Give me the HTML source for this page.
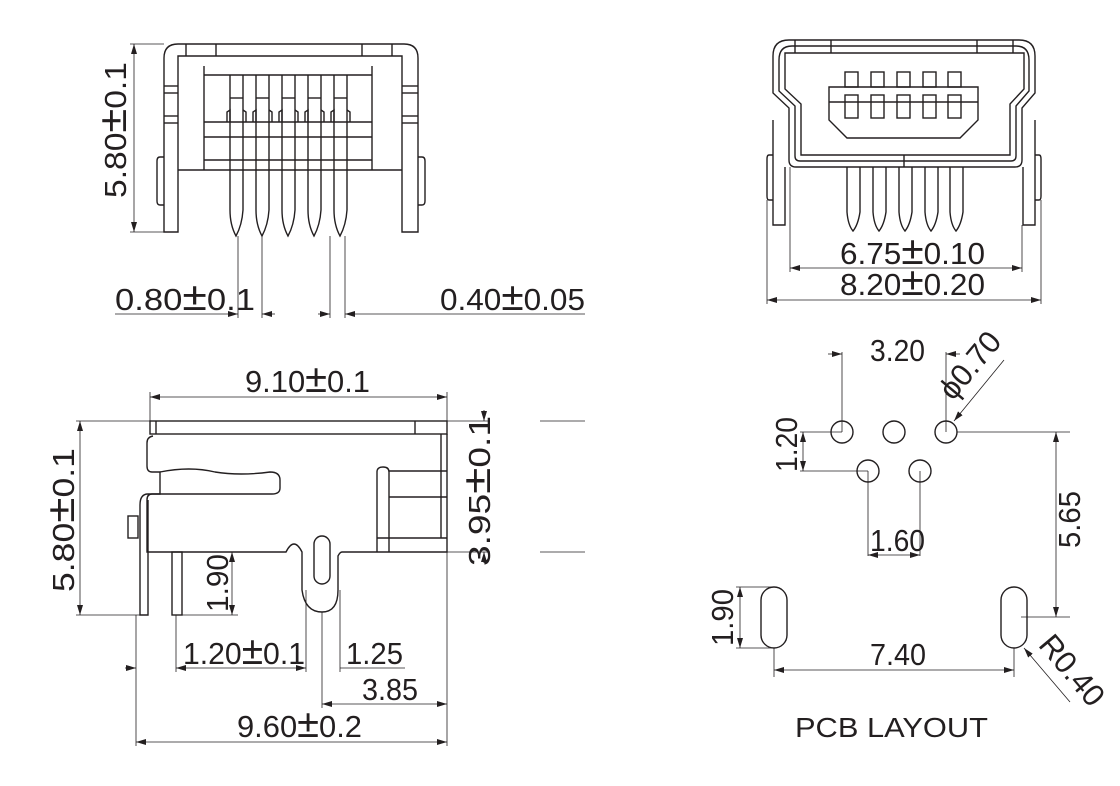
<!DOCTYPE html>
<html><head><meta charset="utf-8"><style>
html,body{margin:0;padding:0;background:#fff;}
svg{display:block}
text{font-family:"Liberation Sans",sans-serif;font-size:31px;fill:#231f20}
tspan.pm{font-size:40px}
</style></head><body>
<svg width="1120" height="786" viewBox="0 0 1120 786" xmlns="http://www.w3.org/2000/svg">
<defs>
<marker id="a" viewBox="0 0 10 6" refX="10" refY="3" markerWidth="10" markerHeight="6" orient="auto-start-reverse" markerUnits="userSpaceOnUse"><path d="M0,0 L10,3 L0,6 z" fill="#231f20"/></marker>
</defs>
<g fill="none" stroke="#231f20" stroke-width="1.4">
<!-- TOP LEFT VIEW -->
<path d="M164,232 L164,58 Q164,44 178,44 L404,44 Q418,44 418,58 L418,232 L402,232 L402,56 L178,56 L178,232 Z"/>
<line x1="178" y1="170" x2="402" y2="170"/>
<line x1="186" y1="44" x2="186" y2="56"/><line x1="216" y1="44" x2="216" y2="56"/>
<line x1="362" y1="44" x2="362" y2="56"/><line x1="392" y1="44" x2="392" y2="56"/>
<line x1="164" y1="86" x2="178" y2="86"/><line x1="164" y1="93" x2="178" y2="93"/>
<line x1="164" y1="116" x2="178" y2="116"/><line x1="164" y1="123" x2="178" y2="123"/>
<line x1="402" y1="86" x2="418" y2="86"/><line x1="402" y1="93" x2="418" y2="93"/>
<line x1="402" y1="116" x2="418" y2="116"/><line x1="402" y1="123" x2="418" y2="123"/>
<path d="M164,157 L160,157 Q157,157 157,161 L157,201 Q157,205 160,205 L164,205"/>
<path d="M418,157 L422,157 Q425,157 425,161 L425,201 Q425,205 422,205 L418,205"/>
<line x1="204" y1="66" x2="204" y2="170"/><line x1="372" y1="66" x2="372" y2="170"/>
<line x1="204" y1="75" x2="372" y2="75"/>
<line x1="204" y1="122" x2="372" y2="122"/>
<line x1="204" y1="137" x2="372" y2="137"/>
<line x1="204" y1="160" x2="372" y2="160"/>
<g id="pinT">
<path d="M230,75 L230,210 Q230,225 236,236 Q242,225 243,210 L243,75"/>
<line x1="230" y1="98" x2="243" y2="98"/>
<path d="M227,122 L227,112 L230,110 L230,122 M243,110 L246,112 L246,122"/>
</g>
<use href="#pinT" x="26"/><use href="#pinT" x="52"/><use href="#pinT" x="78"/><use href="#pinT" x="104"/>
<line x1="130" y1="44" x2="164" y2="44" stroke-width="0.8"/>
<line x1="130" y1="232" x2="164" y2="232" stroke-width="0.8"/>
<line x1="134" y1="44" x2="134" y2="232" stroke-width="0.8" marker-start="url(#a)" marker-end="url(#a)"/>
<g stroke-width="0.8">
<line x1="238" y1="236" x2="238" y2="318"/><line x1="262" y1="236" x2="262" y2="318"/>
<line x1="330" y1="236" x2="330" y2="318"/><line x1="345" y1="236" x2="345" y2="318"/>
<line x1="115" y1="314" x2="238" y2="314" marker-end="url(#a)"/>
<line x1="275" y1="314" x2="262" y2="314" marker-end="url(#a)"/>
<line x1="318" y1="314" x2="330" y2="314" marker-end="url(#a)"/>
<line x1="585" y1="314" x2="345" y2="314" marker-end="url(#a)"/>
</g>

<!-- TOP RIGHT VIEW -->
<path d="M773,56 Q773,40 789,40 L1019,40 Q1035,40 1035,56 L1035,93 L1022,108 L1022,160 Q1022,167 1015,167 L796,167 Q789,167 789,160 L789,108 L773,93 Z"/>
<path d="M779,60 Q779,46 792,46 L1016,46 Q1029,46 1029,60 L1029,91 L1016,106 L1016,156 Q1016,161 1011,161 L800,161 Q795,161 795,156 L795,106 L779,91 Z"/>
<path d="M785,53 L1024,53 L1024,89 L1010,104 L1010,155 L801,155 L801,104 L785,89 Z"/>
<line x1="795" y1="40" x2="795" y2="53"/><line x1="831" y1="40" x2="831" y2="53"/>
<line x1="977" y1="40" x2="977" y2="53"/><line x1="1013" y1="40" x2="1013" y2="53"/>
<line x1="904" y1="155" x2="904" y2="167"/>
<path d="M829,87 L978,87 L978,120 L960,138 L847,138 L829,120 Z"/>
<line x1="829" y1="102" x2="978" y2="102"/>
<g id="pinR"><rect x="845" y="72" width="13" height="15"/><rect x="845" y="95" width="13" height="23"/>
<path d="M847,167 L847,212 Q848,225 853,231 Q858,225 860,212 L860,167"/></g>
<use href="#pinR" x="26"/><use href="#pinR" x="52"/><use href="#pinR" x="78"/><use href="#pinR" x="103"/>
<path d="M773,155 L769,155 Q767,155 767,159 L767,196 Q767,200 769,200 L773,200"/>
<path d="M773,120 L773,225 L785,225 L785,167"/>
<path d="M1035,155 L1039,155 Q1041,155 1041,159 L1041,196 Q1041,200 1039,200 L1035,200"/>
<path d="M1035,120 L1035,225 L1023,225 L1023,167"/>
<g stroke-width="0.8">
<line x1="790" y1="167" x2="790" y2="272"/><line x1="1022" y1="225" x2="1022" y2="272"/>
<line x1="767" y1="200" x2="767" y2="304"/><line x1="1041" y1="200" x2="1041" y2="304"/>
<line x1="790" y1="268" x2="1022" y2="268" marker-start="url(#a)" marker-end="url(#a)"/>
<line x1="767" y1="300" x2="1041" y2="300" marker-start="url(#a)" marker-end="url(#a)"/>
</g>

<!-- BOTTOM LEFT SIDE VIEW -->
<rect x="150" y="421" width="297" height="13"/>
<line x1="156" y1="421" x2="156" y2="434"/><line x1="415" y1="421" x2="415" y2="434"/>
<path d="M447,434 L447,552 L342,552 Q340,552 338,556 L338,590 Q338,612 322,612 Q305,612 302,590 L302,552 Q298,544 294,544 Q290,544 286,552 L147,552 L147,500 Q147,494 152,494 L160,494 L160,472 L152,472 Q147,472 147,466 L147,443 Q147,437 153,436"/>
<path d="M160,472 Q190,466 215,472 Q240,476 270,472 Q280,472 280,480 L280,488 Q280,494 272,494 L160,494"/>
<path d="M160,494 L148,494 Q140,494 140,505 L140,615 L148,615 L148,500"/>
<rect x="128" y="516" width="10" height="22"/>
<rect x="172" y="552" width="10" height="63"/>
<rect x="314" y="536" width="16" height="48" rx="8"/>
<path d="M377,552 L377,472 Q377,467 383,467 Q389,467 389,472 L389,552"/>
<line x1="389" y1="471" x2="447" y2="471"/><line x1="389" y1="497" x2="447" y2="497"/>
<line x1="377" y1="538" x2="447" y2="538"/>
<path d="M441,434 L441,538"/>
<g stroke-width="0.8">
<line x1="150" y1="421" x2="150" y2="392"/><line x1="447" y1="421" x2="447" y2="392"/>
<line x1="150" y1="397" x2="447" y2="397" marker-start="url(#a)" marker-end="url(#a)"/>
<line x1="76" y1="421" x2="150" y2="421"/><line x1="76" y1="615" x2="140" y2="615"/>
<line x1="80" y1="421" x2="80" y2="615" marker-start="url(#a)" marker-end="url(#a)"/>
<line x1="447" y1="421" x2="490" y2="421"/><line x1="447" y1="552" x2="490" y2="552"/>
<line x1="484" y1="410" x2="484" y2="421" marker-end="url(#a)"/>
<line x1="484" y1="563" x2="484" y2="552" marker-end="url(#a)"/>
<line x1="540" y1="421" x2="585" y2="421"/><line x1="540" y1="552" x2="585" y2="552"/>
<line x1="182" y1="615" x2="238" y2="615"/>
<line x1="232" y1="552" x2="232" y2="615" marker-start="url(#a)" marker-end="url(#a)"/>
<line x1="136" y1="615" x2="136" y2="746"/><line x1="447" y1="552" x2="447" y2="746"/>
<line x1="176" y1="615" x2="176" y2="672"/><line x1="306" y1="590" x2="306" y2="672"/>
<line x1="340" y1="590" x2="340" y2="672"/><line x1="322" y1="612" x2="322" y2="708"/>
<line x1="176" y1="668" x2="306" y2="668" marker-start="url(#a)" marker-end="url(#a)"/>
<line x1="125" y1="668" x2="136" y2="668" marker-end="url(#a)"/>
<line x1="340" y1="668" x2="405" y2="668"/>
<line x1="322" y1="704" x2="447" y2="704" marker-start="url(#a)" marker-end="url(#a)"/>
<line x1="136" y1="742" x2="447" y2="742" marker-start="url(#a)" marker-end="url(#a)"/>
</g>

<!-- PCB LAYOUT -->
<circle cx="842" cy="432" r="11"/><circle cx="894" cy="432" r="11"/><circle cx="946" cy="432" r="11"/>
<circle cx="868" cy="471" r="11"/><circle cx="920" cy="471" r="11"/>
<rect x="761" y="587" width="26" height="61" rx="13"/>
<rect x="1001" y="587" width="26" height="61" rx="13"/>
<g stroke-width="0.8">
<line x1="842" y1="432" x2="842" y2="352"/><line x1="946" y1="432" x2="946" y2="352"/>
<line x1="828" y1="354" x2="842" y2="354" marker-end="url(#a)"/>
<line x1="960" y1="354" x2="946" y2="354" marker-end="url(#a)"/>
<line x1="1004" y1="360" x2="954" y2="421" marker-end="url(#a)"/>
<line x1="800" y1="432" x2="842" y2="432"/><line x1="800" y1="471" x2="868" y2="471"/>
<line x1="803" y1="432" x2="803" y2="471" marker-start="url(#a)" marker-end="url(#a)"/>
<line x1="868" y1="471" x2="868" y2="556"/><line x1="920" y1="471" x2="920" y2="556"/>
<line x1="868" y1="555" x2="920" y2="555" marker-start="url(#a)" marker-end="url(#a)"/>
<line x1="957" y1="432" x2="1070" y2="432"/><line x1="1021" y1="617" x2="1070" y2="617"/>
<line x1="1056" y1="432" x2="1056" y2="617" marker-start="url(#a)" marker-end="url(#a)"/>
<line x1="736" y1="587" x2="774" y2="587"/><line x1="736" y1="648" x2="774" y2="648"/>
<line x1="740" y1="587" x2="740" y2="648" marker-start="url(#a)" marker-end="url(#a)"/>
<line x1="774" y1="648" x2="774" y2="677"/><line x1="1014" y1="648" x2="1014" y2="677"/>
<line x1="774" y1="670" x2="1014" y2="670" marker-start="url(#a)" marker-end="url(#a)"/>
<line x1="1070" y1="702" x2="1024" y2="648" marker-end="url(#a)"/>
</g>
</g>

<!-- TEXT -->
<text transform="translate(126,198) rotate(-90)" textLength="136" lengthAdjust="spacingAndGlyphs">5.80<tspan class="pm">±</tspan>0.1</text>
<text x="115" y="310" textLength="140" lengthAdjust="spacingAndGlyphs">0.80<tspan class="pm">±</tspan>0.1</text>
<text x="440" y="310" textLength="145" lengthAdjust="spacingAndGlyphs">0.40<tspan class="pm">±</tspan>0.05</text>
<text x="840" y="264" textLength="145" lengthAdjust="spacingAndGlyphs">6.75<tspan class="pm">±</tspan>0.10</text>
<text x="840" y="295" textLength="145" lengthAdjust="spacingAndGlyphs">8.20<tspan class="pm">±</tspan>0.20</text>
<text x="245" y="392" textLength="125" lengthAdjust="spacingAndGlyphs">9.10<tspan class="pm">±</tspan>0.1</text>
<text transform="translate(74,592) rotate(-90)" textLength="144" lengthAdjust="spacingAndGlyphs">5.80<tspan class="pm">±</tspan>0.1</text>
<text transform="translate(490,566) rotate(-90)" textLength="150" lengthAdjust="spacingAndGlyphs">3.95<tspan class="pm">±</tspan>0.1</text>
<text transform="translate(228,612) rotate(-90)" textLength="58" lengthAdjust="spacingAndGlyphs">1.90</text>
<text x="183" y="664" textLength="122" lengthAdjust="spacingAndGlyphs">1.20<tspan class="pm">±</tspan>0.1</text>
<text x="346" y="664" textLength="57" lengthAdjust="spacingAndGlyphs">1.25</text>
<text x="362" y="700" textLength="56" lengthAdjust="spacingAndGlyphs">3.85</text>
<text x="237" y="737" textLength="125" lengthAdjust="spacingAndGlyphs">9.60<tspan class="pm">±</tspan>0.2</text>
<text x="870" y="361" textLength="55" lengthAdjust="spacingAndGlyphs">3.20</text>
<text transform="translate(978,372) rotate(-50)" text-anchor="middle">ϕ0.70</text>
<text transform="translate(797,472) rotate(-90)" textLength="55" lengthAdjust="spacingAndGlyphs">1.20</text>
<text x="870" y="551" textLength="55" lengthAdjust="spacingAndGlyphs">1.60</text>
<text transform="translate(1080,548) rotate(-90)" textLength="57" lengthAdjust="spacingAndGlyphs">5.65</text>
<text transform="translate(733,646) rotate(-90)" textLength="57" lengthAdjust="spacingAndGlyphs">1.90</text>
<text x="870" y="665" textLength="56" lengthAdjust="spacingAndGlyphs">7.40</text>
<text transform="translate(1064,677) rotate(50)" text-anchor="middle">R0.40</text>
<text x="795" y="737" textLength="193" lengthAdjust="spacingAndGlyphs" style="font-size:28px">PCB  LAYOUT</text>
</svg>
</body></html>
